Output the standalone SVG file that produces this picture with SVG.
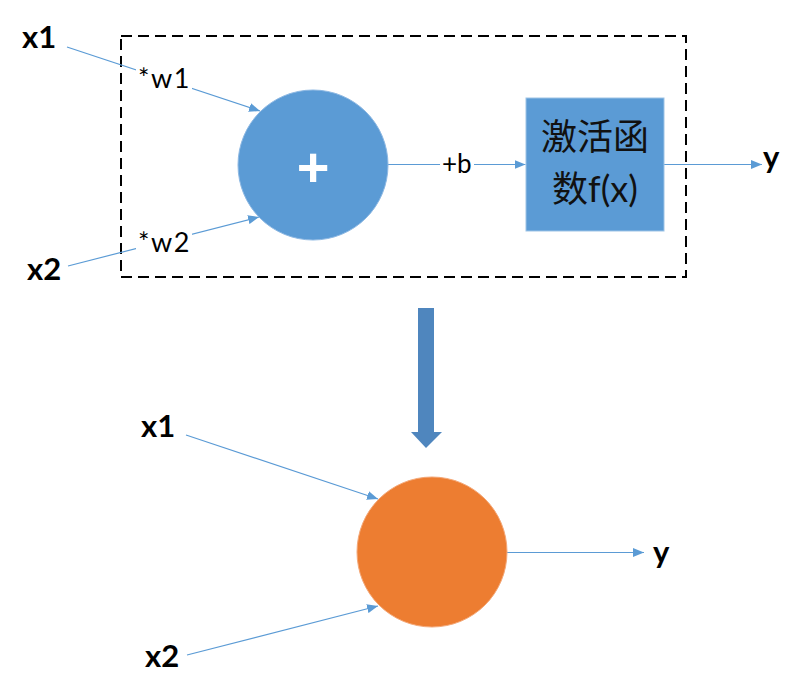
<svg xmlns="http://www.w3.org/2000/svg" width="803" height="700" viewBox="0 0 803 700">
<defs>
<marker id="arr" markerUnits="userSpaceOnUse" markerWidth="11" markerHeight="9" refX="11" refY="4.5" orient="auto">
<path d="M0,0 L11,4.5 L0,9 Z" fill="#5B9BD5"/>
</marker>
</defs>
<style>
.bg{fill:#ffffff}
.conn{stroke:#5B9BD5;stroke-width:1.2;fill:none;marker-end:url(#arr)}
.big{font-family:Lato,"Liberation Sans",Arial,sans-serif;font-weight:bold;font-size:31px;fill:#000}
.lbl{font-family:Lato,"Liberation Sans",Arial,sans-serif;font-size:26px;fill:#000}
.w{font-size:27px;letter-spacing:1.5px}
.cjk{font-family:Lato,"Noto Sans CJK SC",sans-serif;font-size:36px;fill:#111}
.frame{fill:none;stroke:#000;stroke-width:2;stroke-dasharray:11 6}
</style>
<rect class="bg" x="0" y="0" width="803" height="700"/>

<g id="frame">
<rect class="frame" x="121" y="36" width="565" height="241"/>
</g>

<g id="connectors">
<line class="conn" x1="67" y1="47" x2="260" y2="111"/>
<line class="conn" x1="68" y1="266" x2="259" y2="217"/>
<line class="conn" x1="388" y1="164.5" x2="525.5" y2="164.5"/>
<line class="conn" x1="664" y1="164.5" x2="762" y2="164.5"/>
<line class="conn" x1="186" y1="435" x2="378" y2="499"/>
<line class="conn" x1="187" y1="655" x2="378" y2="606"/>
<line class="conn" x1="507" y1="552.5" x2="644" y2="552.5"/>
</g>

<g id="label-w1">
<rect class="bg" x="136" y="66" width="56" height="26"/>
<text class="lbl w" x="138" y="88">*w1</text>
</g>
<g id="label-w2">
<rect class="bg" x="136" y="230" width="56" height="26"/>
<text class="lbl w" x="138" y="252">*w2</text>
</g>
<g id="label-b">
<rect class="bg" x="440" y="152" width="34" height="25"/>
<text class="lbl" x="442" y="173">+b</text>
</g>

<g id="x1-top"><text class="big" x="22" y="48">x1</text></g>
<g id="x2-top"><text class="big" x="27" y="280">x2</text></g>
<g id="y-top"><text class="big" x="763" y="168">y</text></g>

<g id="sum">
<circle cx="313" cy="165" r="75" fill="#5B9BD5" stroke="#8DB8E3" stroke-width="1"/>
<text x="313" y="186" text-anchor="middle" font-family="Liberation Sans, Arial, sans-serif" font-weight="bold" font-size="56" fill="#ffffff">+</text>
</g>

<g id="activation">
<rect x="526" y="98" width="138" height="133" fill="#5B9BD5" stroke="#9DC3E6" stroke-width="1"/>
<text class="cjk" x="595" y="150" text-anchor="middle">激活函</text>
<text class="cjk" x="595" y="202" text-anchor="middle">数f(x)</text>
</g>

<g id="big-arrow">
<path d="M418,308 L434,308 L434,432 L442,432 L426,448 L411,432 L418,432 Z" fill="#4F86BE"/>
</g>

<g id="x1-bottom"><text class="big" x="141" y="437">x1</text></g>
<g id="x2-bottom"><text class="big" x="145" y="667">x2</text></g>
<g id="y-bottom"><text class="big" x="653" y="563">y</text></g>

<g id="neuron">
<circle cx="432" cy="552" r="75" fill="#ED7D31" stroke="#F4A878" stroke-width="1"/>
</g>
</svg>
